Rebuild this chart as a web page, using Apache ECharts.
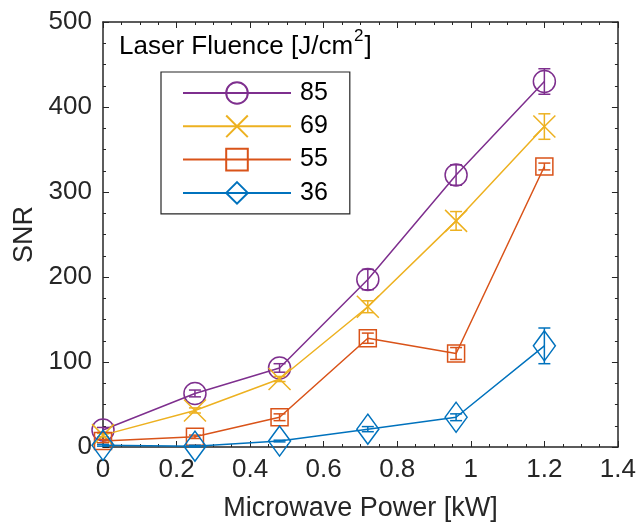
<!DOCTYPE html>
<html><head><meta charset="utf-8">
<script src="https://cdn.jsdelivr.net/npm/echarts@6/dist/echarts.min.js"></script>
<style>html,body{margin:0;padding:0;background:#fff}#c{width:639px;height:527px}</style>
</head><body><div id="c"></div>
<script>
const power = [0, 0.25, 0.48, 0.72, 0.96, 1.2];
const names = ['85', '69', '55', '36'];
const snr85 = [20, 63, 93, 197, 320, 430];
const err85 = [3, 4, 5, 12, 12, 15];
const snr69 = [14, 43, 80, 165, 266, 377];
const err69 = [2, 3, 3, 7, 11, 15];
const snr55 = [7, 12, 35, 128, 110, 330];
const err55 = [2, 2, 4, 6, 7, 4];
const snr36 = [2, 1, 7, 21, 35, 119];
const err36 = [1, 1, 1, 3, 4, 21];
const yTicks = [0, 100, 200, 300, 400, 500];
const xTicks = [0, 0.2, 0.4, 0.6, 0.8, 1, 1.2, 1.4];

const colors = ['#7E2F8E', '#EDB120', '#D95319', '#0072BD'];
const values = [snr85, snr69, snr55, snr36];
const errs = [err85, err69, err55, err36];
const symbols = ['circle', 'path://M0,0L10,10M10,0L0,10', 'rect', 'diamond'];
const symSizes = [22, 22, 17, [22, 30]];
const axisCol = '#262626';
const font = 'Liberation Sans, Arial, sans-serif';

const series = [];
names.forEach((n, i) => {
  series.push({
    name: n, type: 'line', z: 3 + i,
    data: power.map((x, j) => [x, values[i][j]]),
    symbol: symbols[i], symbolSize: symSizes[i],
    lineStyle: {color: colors[i], width: 1.5},
    itemStyle: {color: 'rgba(255,255,255,0)', borderColor: colors[i], borderWidth: 1.5},
    emphasis: {disabled: true}, animation: false
  });
});
names.forEach((n, i) => {
  series.push({
    name: n + 'err', type: 'custom', z: 3 + i,
    data: power.map((x, j) => [x, values[i][j] - errs[i][j], values[i][j] + errs[i][j]]),
    renderItem: function (params, api) {
      const lo = api.coord([api.value(0), api.value(1)]);
      const hi = api.coord([api.value(0), api.value(2)]);
      const w = 6;
      const st = {stroke: colors[i], lineWidth: 1.5, fill: null};
      return {type: 'group', children: [
        {type: 'line', shape: {x1: lo[0], y1: lo[1], x2: hi[0], y2: hi[1]}, style: st},
        {type: 'line', shape: {x1: lo[0] - w, y1: lo[1], x2: lo[0] + w, y2: lo[1]}, style: st},
        {type: 'line', shape: {x1: hi[0] - w, y1: hi[1], x2: hi[0] + w, y2: hi[1]}, style: st}
      ]};
    },
    animation: false, silent: true
  });
});

const baseAxis = {
  axisLine: {show: true, onZero: false, lineStyle: {color: axisCol, width: 1.5}},
  axisTick: {show: true, inside: true, length: 6, lineStyle: {color: axisCol, width: 1}},
  minorTick: {show: true, splitNumber: 4, length: 3, lineStyle: {color: axisCol, width: 1}},
  splitLine: {show: false}
};

const option = {
  animation: false,
  backgroundColor: '#fff',
  grid: {left: 103, right: 19, top: 22, bottom: 75, containLabel: false},
  xAxis: [
    Object.assign({}, baseAxis, {
      type: 'value', min: 0, max: 1.4, interval: 0.2, position: 'bottom',
      axisLabel: {color: axisCol, fontSize: 26, fontFamily: font, margin: 10,
        formatter: v => { const t = xTicks.find(k => Math.abs(k - v) < 1e-9); return t === undefined ? '' : String(t); }},
      name: 'Microwave Power [kW]', nameLocation: 'middle', nameGap: 48,
      nameTextStyle: {color: axisCol, fontSize: 27, fontFamily: font}
    }),
    Object.assign({}, baseAxis, {
      type: 'value', min: 0, max: 1.4, interval: 0.2, position: 'top',
      axisLabel: {show: false}
    })
  ],
  yAxis: [
    Object.assign({}, baseAxis, {
      type: 'value', min: 0, max: 500, interval: 100, position: 'left',
      axisLabel: {color: axisCol, fontSize: 26, fontFamily: font, margin: 11,
        formatter: v => { const t = yTicks.find(k => k === v); return t === undefined ? '' : String(t); }},
      name: 'SNR', nameLocation: 'middle', nameGap: 57,
      nameTextStyle: {color: axisCol, fontSize: 27, fontFamily: font}
    }),
    Object.assign({}, baseAxis, {
      type: 'value', min: 0, max: 500, interval: 100, position: 'right',
      axisLabel: {show: false}
    })
  ],
  legend: {
    data: names, orient: 'vertical', left: 161, top: 72,
    itemWidth: 108, itemHeight: 27, itemGap: 6.3,
    padding: [7.5, 22, 7.5, 21],
    borderColor: axisCol, borderWidth: 1.2,
    textStyle: {color: '#000', fontSize: 25, lineHeight: 27, height: 27, fontFamily: font, padding: [0, 0, 0, 4]},
    selectedMode: false
  },
  graphic: [{
    type: 'text', left: 119, top: 28, z: 10,
    style: {
      text: '{a|Laser Fluence [J/cm}{s|2}{a|]}',
      rich: {
        a: {fill: '#000', fontSize: 26, fontFamily: font, lineHeight: 32, verticalAlign: 'bottom'},
        s: {fill: '#000', fontSize: 17, fontFamily: font, lineHeight: 32, verticalAlign: 'top', padding: [0, 1, 0, 1]}
      }
    }
  }],
  series: series
};
const chart = echarts.init(document.getElementById('c'), null, {renderer: 'canvas'});
chart.setOption(option);
</script></body></html>
